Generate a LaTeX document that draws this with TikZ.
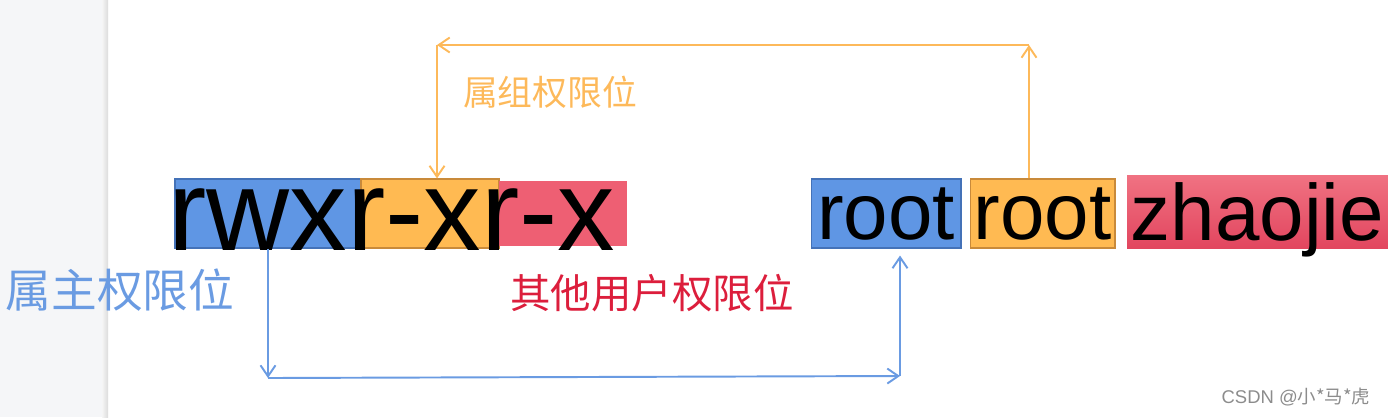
\documentclass[tikz,border=0pt]{standalone}
\usepackage{fontspec}
\setmainfont{Liberation Sans}
\newfontfamily\cjk{Noto Sans CJK SC}
\usetikzlibrary{arrows.meta}
\definecolor{ownerblue}{HTML}{5F96E4}
\definecolor{ownerline}{HTML}{4472B8}
\definecolor{groupyellow}{HTML}{FFBA52}
\definecolor{groupline}{HTML}{C98A3A}
\definecolor{otherred}{HTML}{EE5F73}
\definecolor{othertop}{HTML}{F07282}
\definecolor{otherbottom}{HTML}{E2465F}
\definecolor{otherlabel}{HTML}{DC1E3C}
\definecolor{sidegray}{HTML}{F5F6F8}
\definecolor{ownerarrowc}{HTML}{6A9BE2}
\definecolor{grouparrowc}{HTML}{FDB95A}

\begin{document}
\begin{tikzpicture}[x = 0.02cm, y = -0.02cm,
	permbox/.style = {minimum height = 1.38cm, inner sep = 0pt, line width = 0.6pt},
	word/.style = {inner sep = 0pt, text depth = 0pt, font = \fontsize{45.5pt}{50pt}\selectfont},
	ownerarrow/.style = {draw = ownerarrowc, line width = 1.1pt, -{Straight Barb[length = 2.2mm, width = 3mm]}},
	grouparrow/.style = {draw = grouparrowc, line width = 1.1pt, -{Straight Barb[length = 2.2mm, width = 3mm]}}]
	\useasboundingbox (0,0) rectangle (1388,417);
	\fill[sidegray] (0,0) rectangle (106,417);
	\shade[left color = black!4, right color = black!14] (102,0) rectangle (108,417);
	% permission bits
	\node[permbox, fill = ownerblue, draw = ownerline, minimum width = 3.72cm] (owner) at (268,213.5) {};
	\node[permbox, fill = groupyellow, draw = groupline, minimum width = 2.76cm] (group) at (430,213.5) {};
	\node[permbox, fill = otherred, minimum width = 2.56cm, minimum height = 1.3cm] (other) at (563,213.5) {};
	\node[inner sep = 0pt, anchor = base west, font = \fontsize{65.4pt}{70pt}\selectfont] (perms) at (168,250) {rwxr-xr-x};
	% owner and group names
	\node[permbox, word, fill = ownerblue, draw = ownerline, minimum width = 3.0cm] (rootuser) at (886,213.5) {root};
	\node[permbox, word, fill = groupyellow, draw = groupline, minimum width = 2.9cm] (rootgroup) at (1042.5,213.5) {root};
	\node[permbox, word, top color = othertop, bottom color = otherbottom, minimum width = 5.22cm, minimum height = 1.46cm] (otheruser) at (1257.5,211.5) {zhaojie};
	% labels
	\node[text = ownerarrowc, font = \cjk\fontsize{26pt}{30pt}\selectfont] (ownerlabel) at (120,290) {属主权限位};
	\node[text = grouparrowc, font = \cjk\fontsize{19.8pt}{24pt}\selectfont] (grouplabel) at (550,92) {属组权限位};
	\node[text = otherlabel, font = \cjk\fontsize{23pt}{27pt}\selectfont] (otherlabel) at (652,293) {其他用户权限位};
	\node[text = black!45, font = \fontsize{10.5pt}{12pt}\selectfont] (mark) at (1296,397) {CSDN @{\cjk 小*马*虎}};
	% connectors
	\coordinate (ownerturn) at (268,378);
	\coordinate (ownercorner) at (900,376);
	\coordinate (groupcorner) at (1029,45);
	\coordinate (groupturn) at (437,45);
	\draw[ownerarrow] (owner.south) -- (ownerturn);
	\draw[ownerarrow] (ownerturn) -- (ownercorner);
	\draw[ownerarrow, shorten >= 0.14cm] (ownercorner) -- (ownercorner |- rootuser.south);
	\draw[grouparrow] (groupcorner |- rootgroup.north) -- (groupcorner);
	\draw[grouparrow] (groupcorner) -- (groupturn);
	\draw[grouparrow] (groupturn) -- (groupturn |- group.north);
\end{tikzpicture}
\end{document}
